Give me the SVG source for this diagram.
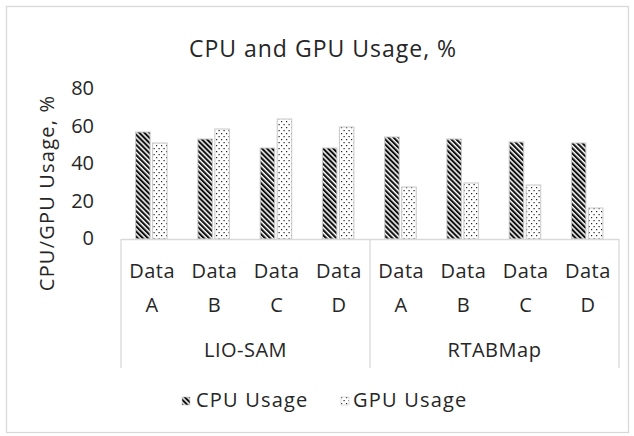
<svg xmlns="http://www.w3.org/2000/svg" width="634" height="436" viewBox="0 0 634 436">
  <defs>
    <!-- wide downward diagonal hatch for CPU bars -->
    <pattern id="hatch" patternUnits="userSpaceOnUse" width="3.6" height="3.6" patternTransform="rotate(-45)">
      <rect width="3.6" height="3.6" fill="#fff"/>
      <rect width="2.1" height="3.6" fill="#111"/>
    </pattern>
    <!-- sparse dot pattern for GPU bars -->
    <pattern id="dots" patternUnits="userSpaceOnUse" width="5" height="6">
      <rect width="5" height="6" fill="#fff"/>
      <rect x="1" y="1" width="1.2" height="1.2" fill="#222"/>
      <rect x="3.5" y="4" width="1.2" height="1.2" fill="#222"/>
    </pattern>
    <style>
      .txt { font-family: "Open Sans", "Noto Sans", sans-serif; fill: #262626; }
      .title { font-size: 23px; letter-spacing: 1px; text-anchor: middle; }
      .tick { font-size: 20px; text-anchor: end; }
      .cat { font-size: 20px; letter-spacing: 0.5px; text-anchor: middle; }
      .leg { font-size: 20px; letter-spacing: 1.2px; }
      .frame { fill: none; stroke: #d9d9d9; stroke-width: 1.3; }
      .cpu { fill: url(#hatch); stroke: #c8c8c8; stroke-width: 1; }
      .gpu { fill: url(#dots); stroke: #c8c8c8; stroke-width: 1; }
    </style>
  </defs>

  <rect x="0" y="0" width="634" height="436" fill="#fff"/>
  <!-- chart border -->
  <rect class="frame" x="6.5" y="6.5" width="622" height="426"/>

  <text class="txt title" x="323" y="57">CPU and GPU Usage, %</text>

  <!-- value axis -->
  <g id="value-axis">
    <text class="txt tick" x="94" y="95">80</text>
    <text class="txt tick" x="94" y="132.5">60</text>
    <text class="txt tick" x="94" y="170">40</text>
    <text class="txt tick" x="94" y="207.5">20</text>
    <text class="txt tick" x="94" y="245">0</text>
    <text class="txt cat" transform="translate(54,193) rotate(-90)" style="letter-spacing:1.2px">CPU/GPU Usage, %</text>
  </g>

  <!-- bars: baseline y=239 -->
  <g id="bars">
    <rect class="cpu" x="135.6" y="132" width="14.5" height="107"/>
    <rect class="gpu" x="152.6" y="143" width="14.5" height="96"/>
    <rect class="cpu" x="197.9" y="139" width="14.5" height="100"/>
    <rect class="gpu" x="214.9" y="129" width="14.5" height="110"/>
    <rect class="cpu" x="260.2" y="148" width="14.5" height="91"/>
    <rect class="gpu" x="277.2" y="119" width="14.5" height="120"/>
    <rect class="cpu" x="322.4" y="148" width="14.5" height="91"/>
    <rect class="gpu" x="339.4" y="127" width="14.5" height="112"/>
    <rect class="cpu" x="384.7" y="137" width="14.5" height="102"/>
    <rect class="gpu" x="401.7" y="187" width="14.5" height="52"/>
    <rect class="cpu" x="446.9" y="139" width="14.5" height="100"/>
    <rect class="gpu" x="463.9" y="183" width="14.5" height="56"/>
    <rect class="cpu" x="509.2" y="142" width="14.5" height="97"/>
    <rect class="gpu" x="526.2" y="185" width="14.5" height="54"/>
    <rect class="cpu" x="571.4" y="143" width="14.5" height="96"/>
    <rect class="gpu" x="588.4" y="208" width="14.5" height="31"/>
  </g>

  <!-- category axis with two label levels -->
  <g id="category-axis">
    <path class="frame" d="M121,239.5 H619 M121,239 V368 M370,239 V368 M619,239 V368"/>
    <g class="txt cat">
      <text x="152.1" y="278">Data</text><text x="152.1" y="312">A</text>
      <text x="214.4" y="278">Data</text><text x="214.4" y="312">B</text>
      <text x="276.7" y="278">Data</text><text x="276.7" y="312">C</text>
      <text x="338.9" y="278">Data</text><text x="338.9" y="312">D</text>
      <text x="401.2" y="278">Data</text><text x="401.2" y="312">A</text>
      <text x="463.4" y="278">Data</text><text x="463.4" y="312">B</text>
      <text x="525.7" y="278">Data</text><text x="525.7" y="312">C</text>
      <text x="587.9" y="278">Data</text><text x="587.9" y="312">D</text>
      <text x="245.5" y="357">LIO-SAM</text>
      <text x="494.5" y="357">RTABMap</text>
    </g>
  </g>

  <!-- legend -->
  <g id="legend">
    <rect x="182" y="397" width="8" height="8" fill="url(#hatch)" stroke="#c8c8c8" stroke-width="0.6"/>
    <text class="txt leg" x="196" y="407">CPU Usage</text>
    <rect x="341" y="397" width="8" height="8" fill="url(#dots)" stroke="#c8c8c8" stroke-width="0.6"/>
    <text class="txt leg" x="353" y="407">GPU Usage</text>
  </g>
</svg>
